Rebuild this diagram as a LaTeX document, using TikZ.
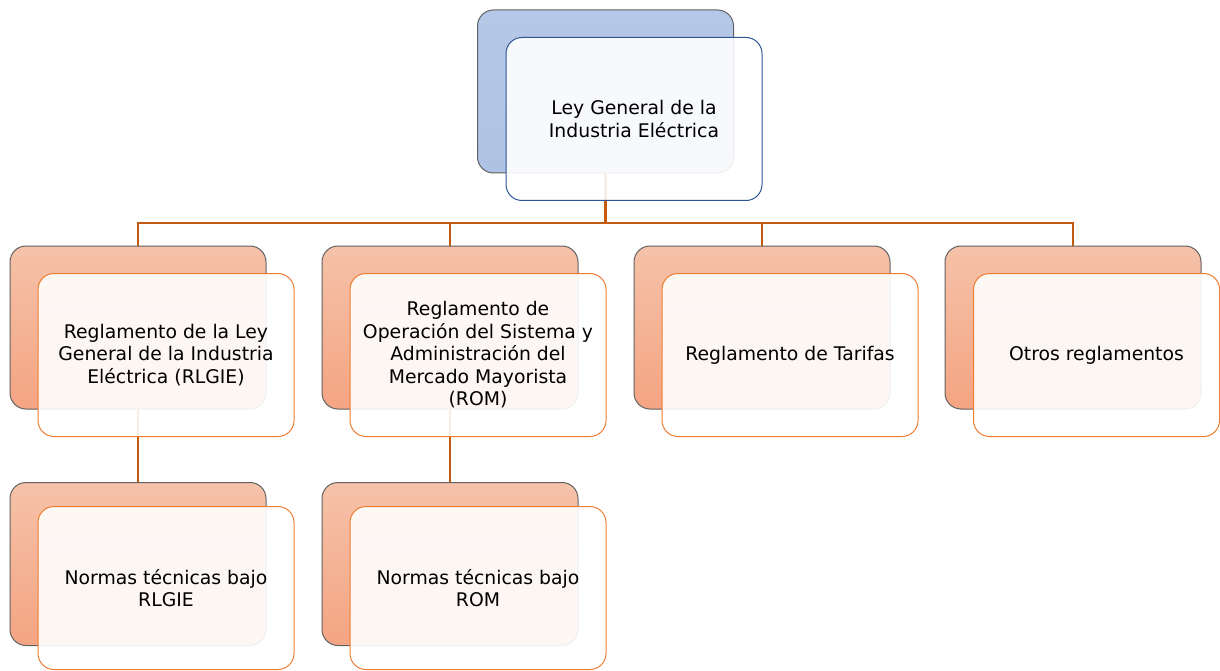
\documentclass[tikz,border=0pt]{standalone}
\usepackage{fontspec}
\setmainfont{DejaVu Sans}
\pgfdeclarelayer{background}
\pgfsetlayers{background,main}
\begin{document}
\begin{tikzpicture}[x=1pt,y=-1pt,
  backbox/.style={rectangle, rounded corners=16pt, minimum width=256pt, minimum height=163pt, inner sep=0pt, outer sep=0pt, draw=black!62, line width=1pt},
  backorange/.style={backbox, top color=orangeTop, bottom color=orangeBot},
  backblue/.style={backbox, top color=blueTop, bottom color=blueBot},
  frontbox/.style={rectangle, rounded corners=16pt, minimum width=256pt, minimum height=163pt, inner sep=2pt, outer sep=0pt, fill=white, fill opacity=0.9, text opacity=1, line width=1pt, align=center, font=\fontsize{18.8}{22.5}\selectfont, text=black},
  frontorange/.style={frontbox, draw=frontOrange},
  frontblue/.style={frontbox, draw=frontBlue},
  conn/.style={draw=connColor, line width=2.8pt}
]
\definecolor{orangeTop}{HTML}{F5C2A9}
\definecolor{orangeBot}{HTML}{F4A482}
\definecolor{blueTop}{HTML}{B6C8E8}
\definecolor{blueBot}{HTML}{AEC2E4}
\definecolor{frontOrange}{HTML}{ED7D31}
\definecolor{frontBlue}{HTML}{2F5597}
\definecolor{connColor}{HTML}{C55A11}

\useasboundingbox (0,0) rectangle (1220,671);
\clip (0,0) rectangle (1220,671);

% top
\node[backblue] (bt) at (605.5,91.5) {};
\node[frontblue] (ft) at (634,119) {Ley General de la\\Industria Eléctrica};

% level 2
\node[backorange] (b1) at (138,327.5) {};
\node[frontorange] (f1) at (166,355) {Reglamento de la Ley\\General de la Industria\\Eléctrica (RLGIE)};
\node[backorange] (b2) at (450,327.5) {};
\node[frontorange] (f2) at (478,355) {Reglamento de\\Operación del Sistema y\\Administración del\\Mercado Mayorista\\(ROM)};
\node[backorange] (b3) at (762,327.5) {};
\node[frontorange] (f3) at (790,355) {Reglamento de Tarifas};
\node[backorange] (b4) at (1073,327.5) {};
\node[frontorange, minimum width=246pt] (f4) at (1096.5,355) {Otros reglamentos};

% level 3
\node[backorange] (c1) at (138,564) {};
\node[frontorange] (g1) at (166,588) {Normas técnicas bajo\\RLGIE};
\node[backorange] (c2) at (450,564) {};
\node[frontorange] (g2) at (478,588) {Normas técnicas bajo\\ROM};

% connectors (behind the boxes)
\coordinate (j) at (605.5,223);
\begin{pgfonlayer}{background}
\draw[conn] (bt.south) -- (j);
\draw[conn] (j) -| (b1.north);
\draw[conn] (j) -| (b2.north);
\draw[conn] (j) -| (b3.north);
\draw[conn] (j) -| (b4.north);
\draw[conn] (b1.south) -- (c1.north);
\draw[conn] (b2.south) -- (c2.north);
\end{pgfonlayer}
\end{tikzpicture}
\end{document}
